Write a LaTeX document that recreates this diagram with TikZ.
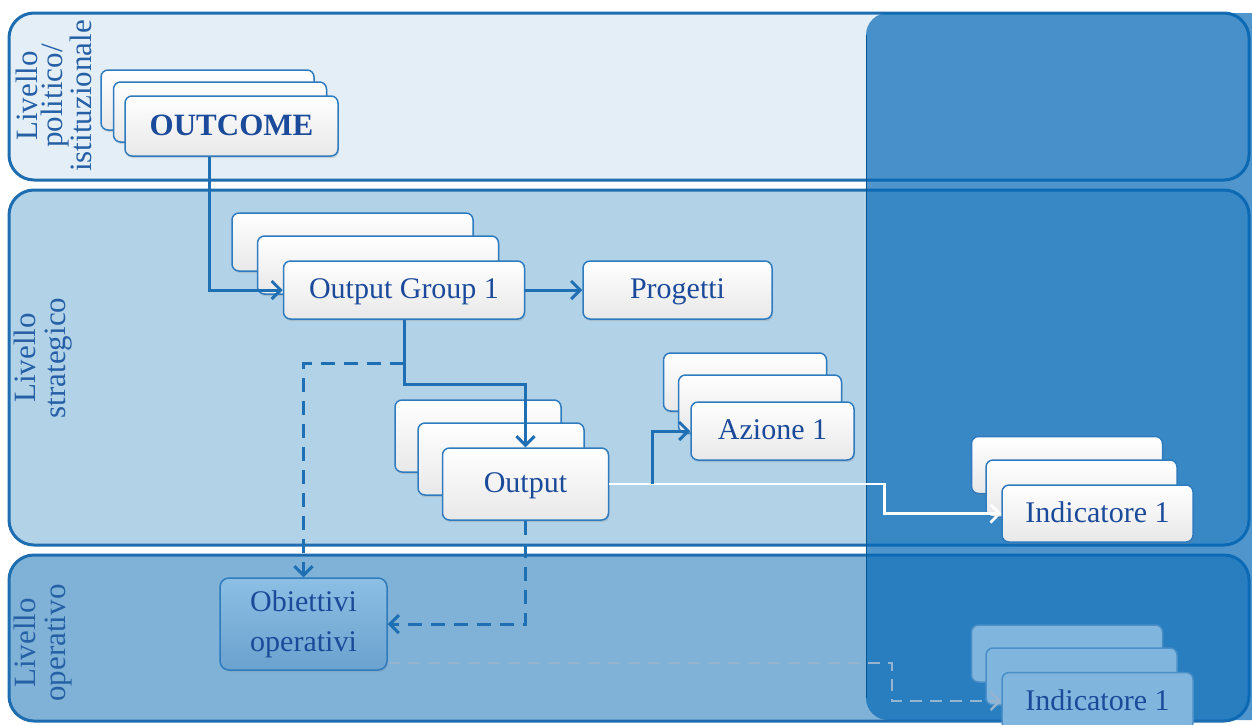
\documentclass[tikz,border=0pt]{standalone}
\usepackage{fontspec}
\setmainfont{Liberation Serif}
\usetikzlibrary{arrows.meta,shadows,calc}
\definecolor{bandline}{HTML}{1D6DB0}
\definecolor{bandA}{HTML}{E3EEF6}
\definecolor{bandB}{HTML}{B2D2E8}
\definecolor{bandC}{HTML}{7FB2D6}
\definecolor{panelcol}{HTML}{0569B8}
\definecolor{boxline}{HTML}{2E7BBF}
\definecolor{txtcol}{HTML}{1C4A9A}
\definecolor{lblcol}{HTML}{2560A6}
\definecolor{conncol}{HTML}{1F6FB5}
\definecolor{faintbox}{HTML}{80B5DD}
\definecolor{faintline}{HTML}{4A8FC8}
\definecolor{grayconn}{HTML}{96B4CE}
\definecolor{objtop}{HTML}{8DBFE4}
\definecolor{objbot}{HTML}{6AA2CE}
\newcommand\mybxfont{\fontsize{30}{32}\selectfont}
\begin{document}
\begin{tikzpicture}[x=1pt,y=-1pt,
  band/.style={draw=bandline,line width=3pt,rounded corners=25pt},
  card/.style={draw=boxline,line width=1.5pt,rounded corners=7pt,top color=white,bottom color=black!9,
     text=txtcol,font=\mybxfont,inner sep=0pt,text depth=2pt,
     drop shadow={shadow xshift=1pt,shadow yshift=-2pt,opacity=0.25}},
  faint/.style={draw=faintline,line width=1.5pt,rounded corners=7pt,fill=faintbox,
     text=txtcol,font=\mybxfont,inner sep=0pt,text depth=2pt},
  lab/.style={rotate=90,align=center,text=lblcol,inner sep=0pt},
  conn/.style={draw=conncol,line width=3pt,-{Straight Barb[length=9pt,width=18pt,line width=3pt]}},
  wconn/.style={draw=white,line width=2.8pt,-{Straight Barb[length=9pt,width=18pt,line width=2.6pt]}},
  gconn/.style={draw=grayconn,line width=2.4pt,dash pattern=on 12pt off 8pt,-{Straight Barb[length=9pt,width=18pt,line width=2.2pt]}},
  dconn/.style={conn,dash pattern=on 14pt off 9pt}
]
\useasboundingbox (0,0) rectangle (1252,724);
% bands
\draw[band,fill=bandA] (9,13) rectangle (1249,180);
\draw[band,fill=bandB] (9,190) rectangle (1249,545);
\draw[band,fill=bandC] (9,555) rectangle (1249,721);
% side labels
\node[lab,font=\fontsize{31}{25}\selectfont] (l1) at (54,96) {Livello\\politico/\\istituzionale};
\node[lab,font=\fontsize{31}{30}\selectfont] (l2) at (43,358) {Livello\\strategico};
\node[lab,font=\fontsize{31}{30}\selectfont] (l3) at (43,643) {Livello\\operativo};
% overlay panel
\fill[panelcol,opacity=0.7,rounded corners=22pt] (866,13) rectangle (1290,720);
\draw[panelcol!80!black,line width=1pt] (866,35) -- (866,698);
% OUTCOME stack
\node[card,minimum width=213pt,minimum height=60pt] (oc3) at (207.5,100) {};
\node[card,minimum width=213pt,minimum height=60pt] (oc2) at (220,112) {};
\node[card,minimum width=213pt,minimum height=60pt,font=\fontsize{31}{33}\selectfont\bfseries] (oc) at (231.5,126) {OUTCOME};
% Output Group stack
\node[card,minimum width=241pt,minimum height=58pt] (og3) at (352.5,242) {};
\node[card,minimum width=241pt,minimum height=58pt] (og2) at (378,265) {};
\node[card,minimum width=241pt,minimum height=58pt] (og) at (404,290) {Output Group 1};
% Progetti
\node[card,minimum width=189pt,minimum height=58pt] (prog) at (677.5,290) {Progetti};
% Output stack
\node[card,minimum width=166pt,minimum height=72pt] (out3) at (478,436) {};
\node[card,minimum width=166pt,minimum height=72pt] (out2) at (501,459) {};
\node[card,minimum width=166pt,minimum height=72pt] (out) at (525.5,484) {Output};
% Azione stack
\node[card,minimum width=163pt,minimum height=58pt] (az3) at (745,382) {};
\node[card,minimum width=163pt,minimum height=58pt] (az2) at (760,404) {};
\node[card,minimum width=163pt,minimum height=58pt] (az) at (772.5,431) {Azione 1};
% Indicatore upper
\node[card,minimum width=191pt,minimum height=57pt] (in3) at (1067,465) {};
\node[card,minimum width=191pt,minimum height=57pt] (in2) at (1081.5,488.5) {};
\node[card,minimum width=191pt,minimum height=57pt] (ind) at (1097.5,513.5) {Indicatore 1};
% Indicatore lower
\node[faint,minimum width=191pt,minimum height=57pt] (il3) at (1067,653.5) {};
\node[faint,minimum width=191pt,minimum height=57pt] (il2) at (1081.5,676.5) {};
\node[faint,minimum width=191pt,minimum height=57pt] (indl) at (1097.5,701) {Indicatore 1};
% Obiettivi operativi
\node[draw=boxline,line width=1.5pt,rounded corners=9pt,top color=objtop,bottom color=objbot,
  text=txtcol,font=\mybxfont,inner sep=0pt,align=center,minimum width=167pt,minimum height=92pt,
  drop shadow={shadow xshift=1pt,shadow yshift=-2pt,opacity=0.2}] (obj) at (303.5,624) {Obiettivi\\[8pt]operativi};
% connectors
\draw[conn] ([xshift=-22pt]oc.south) |- (og.west);
\draw[conn] (og.east) -- (prog.west);
\draw[conn] (og.south) -- ++(0,65) -| (out.north);
\coordinate (dstart) at ($(og.south)+(0,44)$);
\draw[dconn] (dstart) -| (obj.north);
\draw[dconn] (out.south) |- (obj.east);
\coordinate (wturn) at ($(out.east)+(275,0)$);
\draw[wconn] (out.east) -- (wturn) |- (ind.west);
\coordinate (abr) at ($(out.east)+(43,0)$);
\draw[conn] (abr) |- (az.west);
\coordinate (gstart) at ([yshift=-39pt]obj.east);
\coordinate (gturn) at ($(gstart)+(504,0)$);
\draw[gconn] (gstart) -- (gturn) |- (indl.west);
\end{tikzpicture}
\end{document}
